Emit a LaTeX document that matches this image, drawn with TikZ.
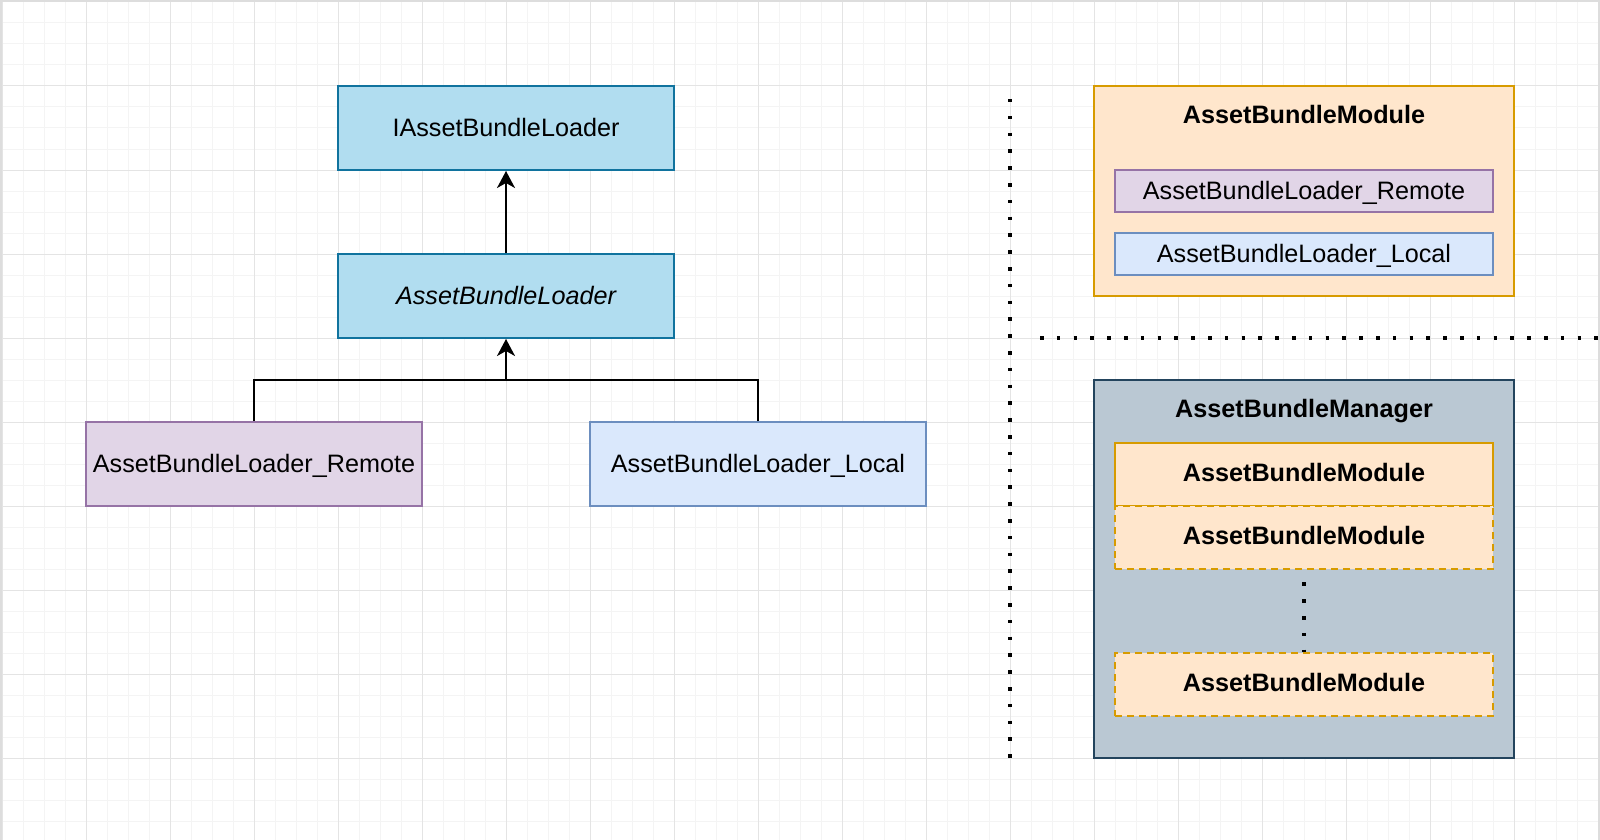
\documentclass[tikz,border=0pt]{standalone}
\usepackage{fontspec}
\setmainfont{Liberation Sans}
\usetikzlibrary{arrows.meta}
\definecolor{gridminor}{HTML}{F4F4F4}
\definecolor{gridmajor}{HTML}{E4E4E4}
\definecolor{frameg}{HTML}{DDDDDD}
\definecolor{blueF}{HTML}{B1DDF0}
\definecolor{blueS}{HTML}{10739E}
\definecolor{purpF}{HTML}{E1D5E7}
\definecolor{purpS}{HTML}{9673A6}
\definecolor{lblueF}{HTML}{DAE8FC}
\definecolor{lblueS}{HTML}{6C8EBF}
\definecolor{orF}{HTML}{FFE6CC}
\definecolor{orS}{HTML}{D79B00}
\definecolor{mgF}{HTML}{BAC8D3}
\definecolor{mgS}{HTML}{23445D}
\tikzset{
  txt/.style={font=\fontsize{12.6}{15}\selectfont, text=black, text height=1.076em, text depth=0.2em},
  bigbox/.style={txt, draw, line width=1pt, minimum width=168pt, minimum height=42pt, inner sep=0pt},
  bluebox/.style={bigbox, fill=blueF, draw=blueS},
  purpbox/.style={draw=purpS, fill=purpF, line width=1pt, txt, inner sep=0pt},
  lbluebox/.style={draw=lblueS, fill=lblueF, line width=1pt, txt, inner sep=0pt},
  orbox/.style={draw=orS, fill=orF, line width=1pt, txt, inner sep=0pt},
  modbox/.style={orbox, minimum width=189pt, minimum height=31.5pt, font=\fontsize{12.6}{15}\selectfont\bfseries, text height=0.916em},
  dashbox/.style={modbox, dash pattern=on 3.5pt off 2.5pt},
  title/.style={txt, font=\fontsize{12.6}{15}\selectfont\bfseries, inner sep=0pt},
  conn/.style={line width=1pt, draw=black},
  arr/.style={conn, -{Stealth[length=8.5pt, width=9pt, inset=2.5pt]}},
  sep/.style={line width=1.75pt, line cap=butt, dash pattern=on 1.75pt off 6.65pt},
}
\begin{document}
\begin{tikzpicture}[x=0.5pt, y=-0.5pt]
\useasboundingbox (0,0) rectangle (1600,840);
\fill[white] (0,0) rectangle (1600,840);
% grid
\foreach \i in {0,...,76} {
  \draw[gridminor, line width=0.5pt] ({2+21*\i},0) -- ({2+21*\i},840);
}
\foreach \i in {0,...,39} {
  \draw[gridminor, line width=0.5pt] (0,{2+21*\i}) -- (1600,{2+21*\i});
}
\foreach \i in {0,...,19} {
  \draw[gridmajor, line width=0.5pt] ({2+84*\i},0) -- ({2+84*\i},840);
}
\foreach \i in {0,...,9} {
  \draw[gridmajor, line width=0.5pt] (0,{2+84*\i}) -- (1600,{2+84*\i});
}
% frame
\draw[frameg, line width=1pt] (1,840) -- (1,1) -- (1599,1) -- (1599,840);

% left hierarchy
\node[bluebox] (iabl) at (506,128) {IAssetBundleLoader};
\node[bluebox] (abl) at (506,296) {\itshape AssetBundleLoader};
\node[purpbox, minimum width=168pt, minimum height=42pt] (remote) at (254,464) {AssetBundleLoader\_Remote};
\node[lbluebox, minimum width=168pt, minimum height=42pt] (local) at (758,464) {AssetBundleLoader\_Local};
\coordinate (j) at (506,380);
\draw[conn] (remote.north) |- (j);
\draw[conn] (local.north) |- (j);
\draw[arr] (j) -- (abl.south);
\draw[arr] (abl.north) -- (iabl.south);

% separators
\coordinate (vtop) at (1010,99);
\coordinate (vbot) at (1010,758);
\coordinate (hl) at (1040,338);
\coordinate (hr) at (1600,338);
\draw[sep] (vtop) -- (vbot);
\draw[sep] (hl) -- (hr);

% AssetBundleModule box
\node[orbox, minimum width=210pt, minimum height=105pt] (module) at (1304,191) {};
\node[title] (moduletitle) at (1304,115) {AssetBundleModule};
\node[purpbox, minimum width=189pt, minimum height=21pt] (irem) at (1304,191) {AssetBundleLoader\_Remote};
\node[lbluebox, minimum width=189pt, minimum height=21pt] (iloc) at (1304,254) {AssetBundleLoader\_Local};

% AssetBundleManager box
\node[draw=mgS, fill=mgF, line width=1pt, minimum width=210pt, minimum height=189pt, inner sep=0pt] (mgr) at (1304,569) {};
\node[title] (mgrtitle) at (1304,409) {AssetBundleManager};
\node[modbox] (m1) at (1304,474.5) {AssetBundleModule};
\node[dashbox] (m2) at (1304,537.5) {AssetBundleModule};
\node[dashbox] (m3) at (1304,684.5) {AssetBundleModule};
\draw[sep, dash phase=2.2pt] (m2.south) -- (m3.north);
\end{tikzpicture}
\end{document}
